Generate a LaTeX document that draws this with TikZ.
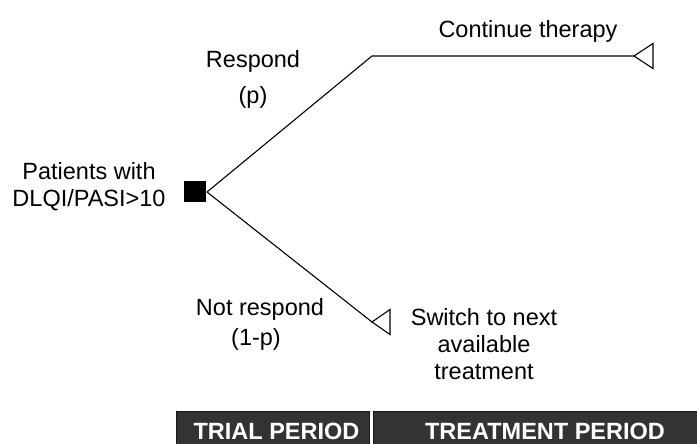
\documentclass[tikz,border=0pt]{standalone}
\usepackage{fontspec}
\setmainfont{Liberation Sans}
\begin{document}
\begin{tikzpicture}[x=1pt,y=-1pt,
  lbl/.style={inner sep=0pt, font=\fontsize{23.5}{27}\selectfont, align=center},
  branch/.style={draw=black, line width=1.1pt},
  decision/.style={fill=black, minimum width=22pt, minimum height=21pt, inner sep=0pt},
  terminal/.style={draw=black, line width=1.1pt, fill=white, line join=miter},
  period/.style={fill=black!80, draw=black!90, line width=0.8pt},
  periodtext/.style={text=white, inner sep=0pt, anchor=base,
    font=\fontsize{23.5}{27}\selectfont\bfseries}]
\useasboundingbox (0,0) rectangle (697,444);
\clip (0,0) rectangle (697,444);

% decision node and branch points
\node[decision] (root) at (195,191.5) {};
\coordinate (fork) at (207,192);
\coordinate (bend) at (372,56);
\coordinate (tipA) at (634,56);
\coordinate (tipB) at (372,322);

% branches
\draw[branch] (fork) -- (bend) -- (tipA);
\draw[branch] (fork) -- (tipB);

% terminal triangles
\draw[terminal] (tipA) -- ++(19,-12.5) -- ++(0,25) -- cycle;
\draw[terminal] (tipB) -- ++(18,-12.5) -- ++(0,25) -- cycle;

% labels
\node[lbl] (patients) at (89,187) {\fontsize{23.5}{21}\selectfont Patients with\\DLQI/PASI>10};
\node[lbl] (respond) at (253,61) {Respond};
\node[lbl] (p) at (253,97) {(p)};
\node[lbl] (notrespond) at (260,309) {Not respond};
\node[lbl] (onep) at (256,339) {(1-p)};
\node[lbl] (continue) at (528,31) {Continue therapy};
\node[lbl] (switch) at (484,344) {Switch to next\\available\\treatment};

% period bars
\path[period] (176,411) rectangle (369,450);
\path[period] (373,411) rectangle (710,450);
\node[periodtext] (trial) at (276.5,439.5) {TRIAL PERIOD};
\node[periodtext] (treatment) at (545,439.5) {TREATMENT PERIOD};
\end{tikzpicture}
\end{document}
